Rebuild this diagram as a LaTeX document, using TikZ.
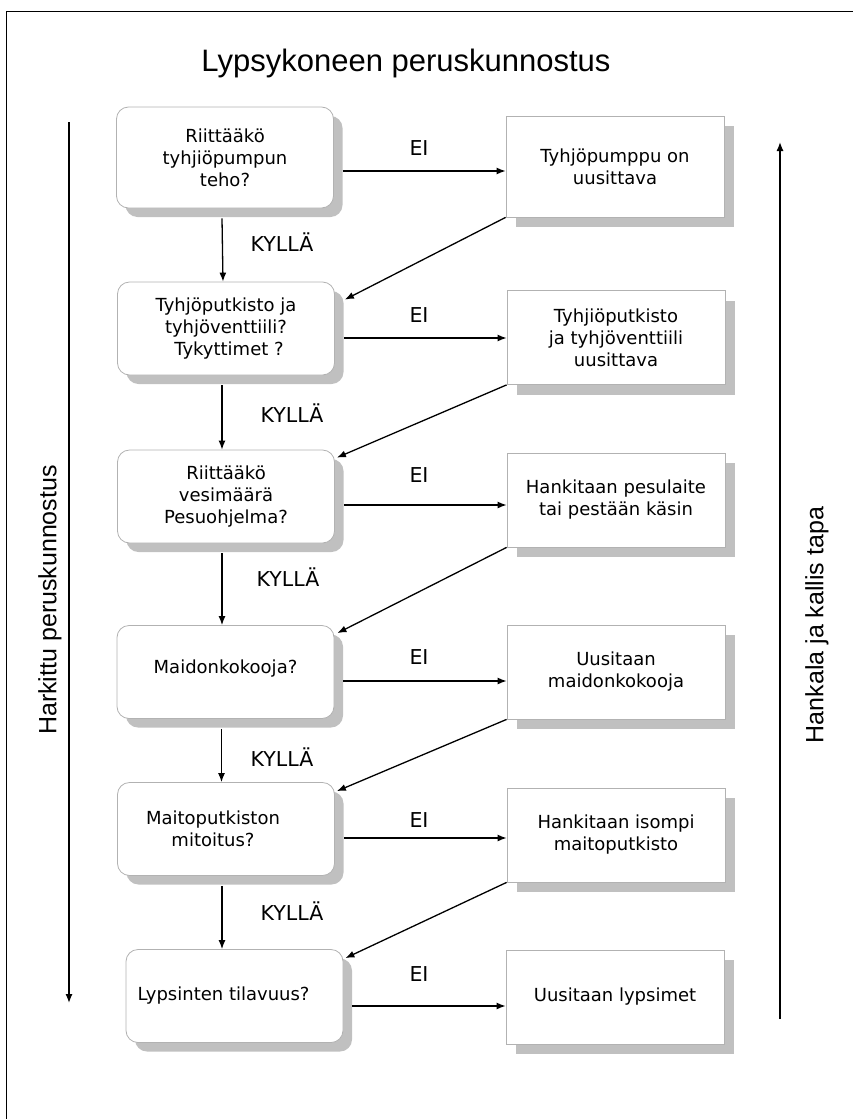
\documentclass[tikz,border=0pt]{standalone}
\usepackage{fontspec}
\setmainfont{DejaVu Sans}
\newfontfamily\arialfont{Liberation Sans}
\usepackage{tikz}
\usetikzlibrary{positioning, arrows.meta, shadows, calc}
\definecolor{boxgray}{RGB}{178, 178, 178}
\definecolor{shadegray}{RGB}{192, 192, 192}

\begin{document}
\begin{tikzpicture}[x=1pt, y=-1pt, >={Latex[length=9pt, width=7pt]},
    askbox/.style={draw=boxgray, line width=0.8pt, rounded corners=12pt, fill=white,
                   minimum width=217pt, minimum height=93pt, inner sep=0pt, align=center,
                   font=\fontsize{18}{22}\selectfont,
                   drop shadow={shadow xshift=9pt, shadow yshift=-9pt, fill=shadegray, opacity=1}},
    fixbox/.style={draw=boxgray, line width=0.8pt, fill=white,
                   minimum width=218pt, minimum height=94pt, inner sep=0pt, align=center,
                   font=\fontsize{18}{22}\selectfont,
                   drop shadow={shadow xshift=10pt, shadow yshift=-10pt, fill=shadegray, opacity=1}},
    answer/.style={font=\fontsize{20.5}{24}\selectfont},
    side/.style={font=\arialfont\fontsize{25}{30}\selectfont, rotate=90},
    flow/.style={->, line width=1.3pt}]
  \useasboundingbox (0,0) rectangle (853,1119);
  \draw[line width=1pt] (6,1119) -- (6,11) -- (853,11);

  \node[font=\arialfont\fontsize{31}{36}\selectfont] (title) at (406,63) {Lypsykoneen peruskunnostus};

  % kysymykset
  \node[askbox, minimum height=101pt] (L1) at (225,157.5) {Riittääkö\\tyhjiöpumpun\\teho?};
  \node[askbox] (L2) at (226,328.5) {Tyhjöputkisto ja\\tyhjöventtiili?\\\hspace*{6pt}Tykyttimet ?};
  \node[askbox] (L3) at (226,496.5) {Riittääkö\\vesimäärä\\Pesuohjelma?};
  \node[askbox] (L4) at (225.5,672) {Maidonkokooja?\raisebox{0pt}[0pt][10pt]{}};
  \node[askbox] (L5) at (226,829) {Maitoputkiston\hspace*{26pt}\\mitoitus?\hspace*{26pt}};
  \node[askbox] (L6) at (234.5,996) {Lypsinten tilavuus?\hspace*{22pt}};

  % toimenpiteet
  \node[fixbox, minimum height=101pt] (R1) at (615,166.5) {Tyhjöpumppu on\\uusittava};
  \node[fixbox] (R2) at (616,337.5) {Tyhjiöputkisto\\ja tyhjöventtiili\\uusittava};
  \node[fixbox] (R3) at (616,500) {Hankitaan pesulaite\\tai pestään käsin};
  \node[fixbox] (R4) at (616,672) {Uusitaan\\maidonkokooja};
  \node[fixbox] (R5) at (616,835) {Hankitaan isompi\\maitoputkisto};
  \node[fixbox] (R6) at (615,997) {Uusitaan lypsimet};

  % EI
  \draw[flow] ([xshift=9pt]L1.east |- 0,171) -- (R1.west |- 0,171);
  \draw[flow] ([xshift=9pt]L2.east |- 0,338) -- (R2.west |- 0,338);
  \draw[flow] ([xshift=9pt]L3.east |- 0,505) -- (R3.west |- 0,505);
  \draw[flow] ([xshift=9pt]L4.east |- 0,681) -- (R4.west |- 0,681);
  \draw[flow] ([xshift=9pt]L5.east |- 0,838) -- (R5.west |- 0,838);
  \draw[flow] ([xshift=9pt]L6.east |- 0,1006) -- (R6.west |- 0,1006);
  \node[answer] (e1) at (419,148) {EI};
  \node[answer] (e2) at (419,315) {EI};
  \node[answer] (e3) at (419,475) {EI};
  \node[answer] (e4) at (419,657) {EI};
  \node[answer] (e5) at (419,820) {EI};
  \node[answer] (e6) at (419,974) {EI};

  % KYLLÄ
  \draw[flow] ([shift={(-3pt,-10pt)}]L1.south) -- ([xshift=-3pt]L2.north);
  \draw[flow] ([shift={(-4pt,-10pt)}]L2.south) -- ([xshift=-4pt]L3.north);
  \draw[flow] ([shift={(-4pt,-10pt)}]L3.south) -- ([xshift=-4pt]L3.south |- L4.north);
  \draw[flow] ([shift={(-4pt,-10pt)}]L4.south) -- ([xshift=-4pt]L4.south |- L5.north);
  \draw[flow] ([shift={(-4pt,-10pt)}]L5.south) -- ([xshift=-4pt]L5.south |- L6.north);
  \node[answer] (k1) at (282,242) {KYLLÄ};
  \node[answer] (k2) at (292,413) {KYLLÄ};
  \node[answer] (k3) at (288,577) {KYLLÄ};
  \node[answer] (k4) at (282,757) {KYLLÄ};
  \node[answer] (k5) at (292,911) {KYLLÄ};

  % takaisin ketjuun
  \draw[flow] (R1.south west) -- ([shift={(10pt,-18pt)}]L2.north east);
  \draw[flow] (R2.south west) -- ([shift={(2pt,-8pt)}]L3.north east);
  \draw[flow] (R3.south west) -- ([shift={(3pt,-8pt)}]L4.north east);
  \draw[flow] (R4.south west) -- ([shift={(2pt,-9pt)}]L5.north east);
  \draw[flow] (R5.south west) -- ([shift={(2pt,-9pt)}]L6.north east);

  % reunanuolet
  \coordinate (downtop) at (69,122);
  \coordinate (downend) at (69,1003);
  \coordinate (upstart) at (780,1019);
  \coordinate (uptop) at (780,142);
  \draw[flow] (downtop) -- (downend);
  \draw[flow] (upstart) -- (uptop);
  \node[side] (harkittu) at (50,600) {Harkittu peruskunnostus};
  \node[side] (hankala) at (817,625) {Hankala ja kallis tapa};
\end{tikzpicture}
\end{document}
